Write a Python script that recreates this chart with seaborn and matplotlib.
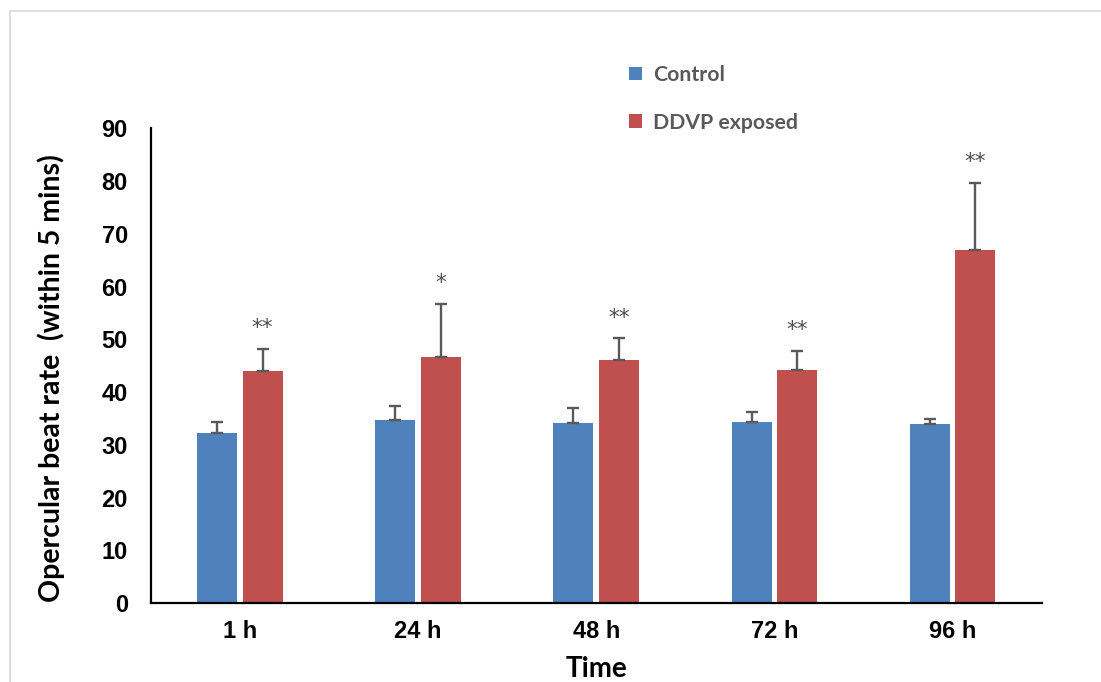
import numpy as np
import pandas as pd
import seaborn as sns
import matplotlib
matplotlib.use("Agg")
import matplotlib.pyplot as plt
from matplotlib.patches import Patch, Rectangle

# Opercular beat rate (beats within 5 min), mean and SEM per exposure time
times = ["1 h", "24 h", "48 h", "72 h", "96 h"]
groups = ["Control", "DDVP exposed"]
control_mean = [32.2, 34.7, 34.2, 34.4, 33.9]
control_sem = [2.2, 2.6, 2.7, 1.8, 0.9]
ddvp_mean = [44.0, 46.7, 46.0, 44.2, 66.9]
ddvp_sem = [4.2, 10.0, 4.2, 3.6, 12.8]
significance = ["**", "*", "**", "**", "**"]

colors = {"Control": "#4F81BD", "DDVP exposed": "#C0504D"}

df = pd.DataFrame({
    "Time": times * 2,
    "Group": [groups[0]] * len(times) + [groups[1]] * len(times),
    "Rate": control_mean + ddvp_mean,
})

sns.set_theme(style="white")
plt.rcParams["font.family"] = ["Liberation Sans", "DejaVu Sans"]

W, H = 1101, 682
fig = plt.figure(figsize=(W / 100, H / 100), dpi=100)
ax = fig.add_axes([150.7 / W, 1 - 603 / H, (1041.7 - 150.7) / W, (603 - 128.3) / H])

# light outer frame
fig.patches.append(Rectangle((10 / W, -0.2), 1.2, 1 - 11 / H + 0.2, transform=fig.transFigure,
                             fill=False, edgecolor="#d9d9d9", linewidth=1.2, zorder=0))

sns.barplot(data=df, x="Time", y="Rate", hue="Group", order=times, hue_order=groups,
            palette=colors, width=0.51, gap=0.12, errorbar=None, saturation=1,
            legend=False, ax=ax, linewidth=0)

err_color = "#595959"
for cont, means, sems in zip(ax.containers, [control_mean, ddvp_mean], [control_sem, ddvp_sem]):
    xs = [b.get_x() + b.get_width() / 2 for b in cont]
    ax.errorbar(xs, means, yerr=[np.zeros(len(sems)), sems], fmt="none",
                ecolor=err_color, elinewidth=1.7, capsize=4.3, capthick=1.7, zorder=3)

# significance marks above the exposed bars
xs_ddvp = [b.get_x() + b.get_width() / 2 for b in ax.containers[1]]
for x, m, s, lab in zip(xs_ddvp, ddvp_mean, ddvp_sem, significance):
    ax.text(x, m + s + 2.0, lab, ha="center", va="bottom",
            fontsize=15.5, color="#505050", family="DejaVu Sans")

ax.set_ylim(0, 90)
ax.set_xlim(-0.5, 4.5)
ax.set_yticks(range(0, 91, 10))
for sp in ["top", "right"]:
    ax.spines[sp].set_visible(False)
for sp in ["left", "bottom"]:
    ax.spines[sp].set_color("black")
    ax.spines[sp].set_linewidth(1.6)

ax.tick_params(axis="y", direction="in", length=6, width=1.4, pad=16.5,
               labelsize=17, colors="black")
ax.tick_params(axis="x", length=0, pad=12.5, labelsize=17, colors="black")
for lab in ax.get_xticklabels() + ax.get_yticklabels():
    lab.set_fontweight("bold")

ax.set_xlabel("Time", fontsize=20, fontweight="bold", family="Lato", color="black")
ax.xaxis.set_label_coords(0.5, (603 - 669) / (603 - 128.3))
ax.xaxis.label.set_va("center")
ax.set_ylabel("Opercular beat rate  (within 5 mins)", fontsize=20.5, fontweight="bold",
              family="Lato", color="black")
ax.yaxis.set_label_coords((51 - 150.7) / 891, (603 - 378) / (603 - 128.3))
ax.yaxis.label.set_va("center")

handles = [Patch(facecolor=colors[g], edgecolor="none", label=g) for g in groups]
leg = ax.legend(handles=handles, loc="upper left", bbox_to_anchor=(629 / W, 1 - 65 / H),
                bbox_transform=fig.transFigure, frameon=False, borderpad=0, borderaxespad=0,
                handlelength=0.62, handleheight=0.62, handletextpad=0.5, labelspacing=1.3,
                prop={"family": "Lato", "weight": "bold", "size": 15.3})
for t in leg.get_texts():
    t.set_color("#595959")

fig.savefig("out.png", dpi=100)
